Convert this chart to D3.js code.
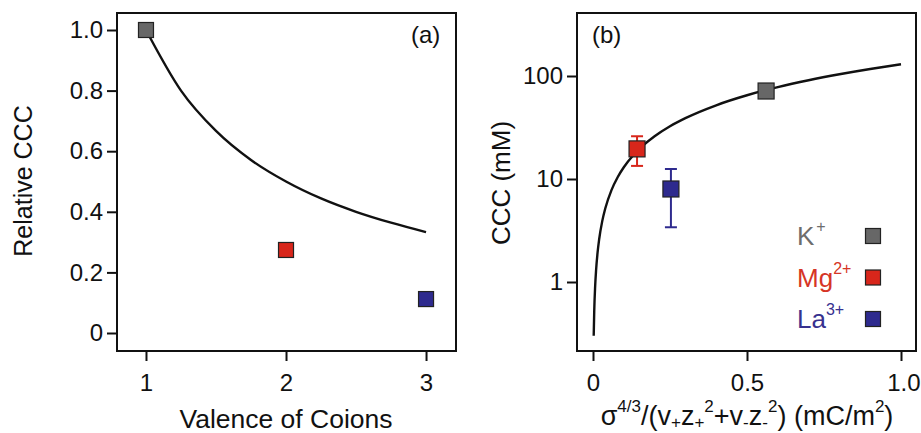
<!DOCTYPE html>
<html><head><meta charset="utf-8">
<script src="https://cdn.jsdelivr.net/npm/d3@7"></script>
<style>body{margin:0;background:#fff}svg{display:block;font-family:"Liberation Sans",Arial,sans-serif}</style>
</head><body><svg id="c" width="921" height="433"></svg>
<script>
// Panel (a)
const valences = [1, 2, 3];
const relCCC = [1.0, 0.274, 0.112];
const ionColors = ["#676767", "#d8261b", "#2e2a8e"];
const curveAx = [1, 1.25, 1.5, 1.75, 2, 2.25, 2.5, 2.75, 3];
const curveAy = [1.0, 0.8, 0.667, 0.571, 0.5, 0.444, 0.4, 0.364, 0.333];
const aYTicks = [0, 0.2, 0.4, 0.6, 0.8, 1.0];
const aYTickLabels = ["0", "0.2", "0.4", "0.6", "0.8", "1.0"];
const aXTicks = [1, 2, 3];

// Panel (b)
const ions = ["K", "Mg", "La"];
const ionCharges = ["+", "2+", "3+"];
const bX = [0.562, 0.143, 0.253];
const bCCC = [71.5, 19.6, 8.0];
const bErrLo = [null, 13.4, 3.4];
const bErrHi = [null, 26, 12.5];
const curveBx = [0.0023, 0.004, 0.007, 0.01, 0.015, 0.02, 0.03, 0.04, 0.06, 0.08, 0.1, 0.13, 0.16, 0.2, 0.25, 0.3, 0.4, 0.5, 0.6, 0.7, 0.8, 0.9, 1.0];
const curveBy = [0.3, 0.52, 0.91, 1.3, 1.95, 2.6, 3.9, 5.2, 7.8, 10.4, 13, 16.9, 20.8, 26, 32.5, 39, 52, 65, 78, 91, 104, 117, 130];
const bYTicks = [1, 10, 100];
const bYTickLabels = ["1", "10", "100"];
const bXTicks = [0, 0.5, 1.0];
const bXTickLabels = ["0", "0.5", "1.0"];

const svg = d3.select("#c");
const frameTop = 13, frameBottom = 351;
const TICK_FS = 24;

function frame(g, x0, x1) {
  g.append("rect").attr("x", x0).attr("y", frameTop).attr("width", x1 - x0).attr("height", frameBottom - frameTop)
    .attr("fill", "none").attr("stroke", "#111").attr("stroke-width", 2);
}
function sq(g, cx, cy, color, s) {
  g.append("rect").attr("x", cx - s / 2).attr("y", cy - s / 2).attr("width", s).attr("height", s)
    .attr("fill", color).attr("stroke", "#222").attr("stroke-width", 1.2);
}
function styleAxis(a) {
  a.select(".domain").remove();
  a.selectAll("line").attr("stroke", "#111").attr("stroke-width", 2);
  a.selectAll("text").attr("font-size", TICK_FS).attr("fill", "#111").attr("font-family", "Liberation Sans, Arial, sans-serif");
}

// ---------- Panel a ----------
{
  const x0 = 117, x1 = 456;
  const x = d3.scaleLinear().domain([0.793, 3.214]).range([x0, x1]);
  const y = d3.scaleLinear().domain([0, 1]).range([333, 30]);
  const g = svg.append("g");
  frame(g, x0, x1);
  const ya = d3.axisLeft(y).tickValues(aYTicks).tickFormat((d, i) => aYTickLabels[i]).tickSize(9).tickPadding(4);
  styleAxis(g.append("g").attr("transform", `translate(${x0 - 1},0)`).call(ya));
  const xa = d3.axisBottom(x).tickValues(aXTicks).tickFormat(d3.format("d")).tickSize(9).tickPadding(13);
  styleAxis(g.append("g").attr("transform", `translate(0,${frameBottom + 1})`).call(xa));
  g.append("path").datum(curveAx.map((v, i) => [v, curveAy[i]]))
    .attr("d", d3.line().x(d => x(d[0])).y(d => y(d[1])).curve(d3.curveMonotoneX))
    .attr("fill", "none").attr("stroke", "#111").attr("stroke-width", 2.4);
  valences.forEach((v, i) => sq(g, x(v), y(relCCC[i]), ionColors[i], 15));
  g.append("text").attr("x", 411).attr("y", 43).attr("font-size", 24).attr("fill", "#111").text("(a)");
  g.append("text").attr("x", x(2)).attr("y", 428).attr("text-anchor", "middle").attr("font-size", 26.5).attr("fill", "#111").text("Valence of Coions");
  g.append("text").attr("transform", `translate(32,181) rotate(-90)`).attr("text-anchor", "middle").attr("font-size", 25).attr("fill", "#111").text("Relative CCC");
}

// ---------- Panel b ----------
{
  const x0 = 577, x1 = 916;
  const x = d3.scaleLinear().domain([0, 1]).range([593, 901]);
  const y = d3.scaleLog().domain([1, 100]).range([282, 76]);
  const g = svg.append("g");
  frame(g, x0, x1);
  const ya = d3.axisLeft(y).tickValues(bYTicks).tickFormat((d, i) => bYTickLabels[i]).tickSize(9).tickPadding(4);
  styleAxis(g.append("g").attr("transform", `translate(${x0 - 1},0)`).call(ya));
  const xa = d3.axisBottom(x).tickValues(bXTicks).tickFormat((d, i) => bXTickLabels[i]).tickSize(9).tickPadding(13);
  const gx = g.append("g").attr("transform", `translate(0,${frameBottom + 1})`).call(xa);
  styleAxis(gx);
  gx.selectAll("text").filter((d, i) => i === 2).attr("text-anchor", "end").attr("x", 19);
  g.append("path").datum(curveBx.map((v, i) => [v, curveBy[i]]))
    .attr("d", d3.line().x(d => x(d[0])).y(d => y(d[1])).curve(d3.curveMonotoneX))
    .attr("fill", "none").attr("stroke", "#111").attr("stroke-width", 2.4);
  ions.forEach((n, i) => {
    if (bErrLo[i] != null) {
      const cx = x(bX[i]);
      g.append("line").attr("x1", cx).attr("x2", cx).attr("y1", y(bErrLo[i])).attr("y2", y(bErrHi[i])).attr("stroke", ionColors[i]).attr("stroke-width", 2);
      [bErrLo[i], bErrHi[i]].forEach(v => g.append("line").attr("x1", cx - 6).attr("x2", cx + 6).attr("y1", y(v)).attr("y2", y(v)).attr("stroke", ionColors[i]).attr("stroke-width", 2));
    }
  });
  ions.forEach((n, i) => sq(g, x(bX[i]), y(bCCC[i]), ionColors[i], 16));
  // legend
  const legText = ["#6d6d6d", "#d63526", "#37318f"];
  ions.forEach((n, i) => {
    const by = 245 + i * 41.5;
    const t = g.append("text").attr("x", 797).attr("y", by).attr("font-size", 26).attr("fill", legText[i]);
    t.append("tspan").text(n);
    t.append("tspan").attr("font-size", 16).attr("dy", -13).attr("dx", i === 0 ? 2 : 0).text(ionCharges[i]);
    sq(g, 873, by - 9, ionColors[i], 15);
  });
  g.append("text").attr("x", 592).attr("y", 43).attr("font-size", 24).attr("fill", "#111").text("(b)");
  g.append("text").attr("transform", `translate(510,183) rotate(-90)`).attr("text-anchor", "middle").attr("font-size", 26).attr("fill", "#111").text("CCC (mM)");
  // x title with super/subscripts
  const t = g.append("text").attr("x", 747).attr("y", 425).attr("text-anchor", "middle").attr("font-size", 27).attr("fill", "#111");
  const parts = [["σ", 0, 27], ["4/3", -13, 17], ["/(v", 13, 27], ["+", 3, 17], ["z", -3, 27], ["+", 3, 17], ["2", -16, 17], ["+v", 13, 27], ["-", 3, 17], ["z", -3, 27], ["-", 3, 17], ["2", -16, 17], [") (mC/m", 13, 27], ["2", -13, 17], [")", 13, 27]];
  parts.forEach(p => t.append("tspan").attr("dy", p[1]).attr("font-size", p[2]).text(p[0]));
}
</script></body></html>
